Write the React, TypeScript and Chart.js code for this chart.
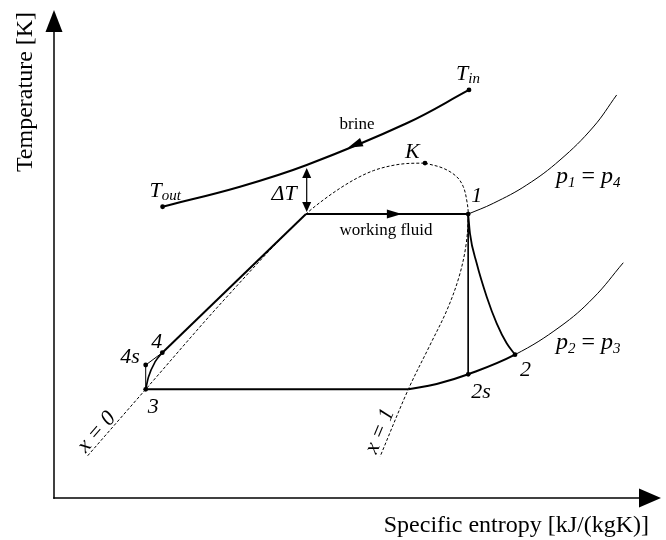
import React, { useEffect, useRef } from "react";
import { Chart, registerables } from "chart.js";

Chart.register(...registerables);

// ---------------- data (s = specific entropy, T = temperature; arbitrary units) ----------------
// Saturated liquid line (x = 0) up to the critical point K
const liquidS = [0.556, 1.513, 2.805, 4.158, 4.444, 4.719, 4.995, 5.269, 5.545, 5.82, 6.122];
const liquidT = [0.693, 1.782, 3.246, 4.655, 4.885, 5.077, 5.241, 5.366, 5.443, 5.483, 5.49];
// Saturated vapour line (x = 1) from K downwards
const vapourS = [6.122, 6.424, 6.645, 6.754, 6.81, 6.835, 6.799, 6.683, 6.485, 6.205, 5.847, 5.38];
const vapourT = [5.49, 5.405, 5.267, 5.103, 4.885, 4.655, 4.148, 3.623, 3.082, 2.508, 1.782, 0.677];

// Brine (heat source) from T_out to T_in
const brineS = [1.792, 3.069, 4.17, 5.82, 6.848];
const brineT = [4.775, 5.103, 5.459, 6.143, 6.689];

// Working fluid cycle
const evapS = [4.158, 6.835];
const evapT = [4.655, 4.655];
const preheatS = [1.787, 4.158];
const preheatT = [2.382, 4.655];
const condS = [1.513, 5.847];
const condT = [1.782, 1.782];
// low-pressure isobar p2 = p3 (thick up to state 2, thin beyond)
const lowIsobarS = [5.847, 6.315, 6.835, 7.607, 8.35, 8.899, 9.394];
const lowIsobarT = [1.782, 1.869, 2.028, 2.35, 2.808, 3.279, 3.857];
// high-pressure isobar p1 = p4 beyond state 1
const highIsobarS = [6.835, 7.249, 7.8, 8.35, 8.899, 9.285];
const highIsobarT = [4.655, 4.831, 5.131, 5.541, 6.082, 6.607];
const expansionS = [6.835, 6.864, 6.975, 7.14, 7.305, 7.47, 7.607];
const expansionT = [4.655, 4.339, 3.847, 3.3, 2.864, 2.536, 2.35];
const isentropicS = [6.835, 6.835];
const isentropicT = [4.655, 2.028];
const pumpS = [1.513, 1.559, 1.667, 1.787];
const pumpT = [1.782, 1.984, 2.23, 2.382];
const pumpIsS = [1.513, 1.513, 1.787];
const pumpIsT = [1.782, 2.18, 2.382];

// Marked state points
const pointNames = ["Tin", "Tout", "K", "1", "2", "2s", "3", "4", "4s"];
const pointS = [6.848, 1.792, 6.122, 6.835, 7.607, 6.835, 1.513, 1.787, 1.513];
const pointT = [6.689, 4.775, 5.49, 4.655, 2.35, 2.028, 1.782, 2.382, 2.18];

// Pinch-point temperature difference (ΔT) marker
const deltaS = 4.17;
const deltaLowT = 4.69;
const deltaHighT = 5.41;

// Flow-direction arrows (entropy position of the arrow tip)
const brineArrowS = 4.85;
const fluidArrowS = 5.74;

// Axis titles
const xTitle = "Specific entropy [kJ/(kgK)]";
const yTitle = "Temperature [K]";

// ---------------- helpers ----------------
const FONT = '"Liberation Serif", "Times New Roman", serif';
const xy = (s: number[], t: number[]) => s.map((v, i) => ({ x: v, y: t[i] }));

function line(label: string, s: number[], t: number[], width: number, extra: any = {}) {
  return {
    label,
    data: xy(s, t),
    showLine: true,
    borderColor: "#000",
    backgroundColor: "#000",
    borderWidth: width,
    pointRadius: 0,
    tension: 0,
    ...extra,
  };
}

function arrowHead(ctx: CanvasRenderingContext2D, tx: number, ty: number, dx: number, dy: number, len: number, hw: number) {
  const n = Math.hypot(dx, dy) || 1;
  const ux = dx / n, uy = dy / n;
  const bx = tx - ux * len, by = ty - uy * len;
  ctx.beginPath();
  ctx.moveTo(tx, ty);
  ctx.lineTo(bx - uy * hw, by + ux * hw);
  ctx.lineTo(bx + uy * hw, by - ux * hw);
  ctx.closePath();
  ctx.fill();
}

type Part = [string, string, number];
function rich(ctx: CanvasRenderingContext2D, x: number, y: number, parts: Part[], align: "left" | "right" | "center" = "left") {
  ctx.textAlign = "left";
  ctx.textBaseline = "alphabetic";
  let w = 0;
  for (const [t, f] of parts) {
    ctx.font = f;
    w += ctx.measureText(t).width;
  }
  let cx = align === "left" ? x : align === "right" ? x - w : x - w / 2;
  for (const [t, f, dy] of parts) {
    ctx.font = f;
    ctx.fillText(t, cx, y + dy);
    cx += ctx.measureText(t).width;
  }
}

function interpAtS(sArr: number[], tArr: number[], s: number) {
  for (let i = 0; i < sArr.length - 1; i++) {
    const a = sArr[i], b = sArr[i + 1];
    if ((s - a) * (s - b) <= 0 && a !== b) {
      const f = (s - a) / (b - a);
      return { t: tArr[i] + f * (tArr[i + 1] - tArr[i]), i };
    }
  }
  return { t: tArr[0], i: 0 };
}

const I22 = `italic 22px ${FONT}`;
const I24 = `italic 24px ${FONT}`;
const I15 = `italic 15px ${FONT}`;
const R24 = `24px ${FONT}`;
const R17 = `17px ${FONT}`;

const overlay = {
  id: "overlay",
  afterDatasetsDraw(chart: any) {
    const ctx: CanvasRenderingContext2D = chart.ctx;
    const xs = chart.scales.x, ys = chart.scales.y;
    const X = (s: number) => xs.getPixelForValue(s);
    const Y = (t: number) => ys.getPixelForValue(t);
    const area = chart.chartArea;
    ctx.save();
    ctx.fillStyle = "#000";
    ctx.strokeStyle = "#000";

    // axes with arrows
    const ox = X(0), oy = Y(0);
    ctx.lineWidth = 1.5;
    ctx.beginPath();
    ctx.moveTo(ox, oy + 0.75);
    ctx.lineTo(ox, area.top + 15);
    ctx.stroke();
    ctx.beginPath();
    ctx.moveTo(ox - 0.75, oy);
    ctx.lineTo(area.right - 15, oy);
    ctx.stroke();
    arrowHead(ctx, ox, area.top, 0, -1, 22, 8.5);
    arrowHead(ctx, area.right + 1, oy, 1, 0, 22, 9.5);

    // axis titles
    ctx.font = R24;
    ctx.textAlign = "right";
    ctx.textBaseline = "alphabetic";
    ctx.fillText(xTitle, area.right - 11, oy + 34);
    ctx.save();
    ctx.translate(ox - 22, area.top + 82);
    ctx.rotate(-Math.PI / 2);
    ctx.textAlign = "center";
    ctx.fillText(yTitle, 0, 0);
    ctx.restore();

    // brine flow arrow
    {
      const { t, i } = interpAtS(brineS, brineT, brineArrowS);
      const dx = X(brineS[i]) - X(brineS[i + 1]);
      const dy = Y(brineT[i]) - Y(brineT[i + 1]);
      arrowHead(ctx, X(brineArrowS), Y(t), dx, dy, 15, 4.5);
    }
    // working fluid arrow
    arrowHead(ctx, X(fluidArrowS), Y(evapT[0]), 1, 0, 15, 4.5);

    // ΔT double arrow
    {
      const x = X(deltaS);
      ctx.lineWidth = 1.2;
      ctx.beginPath();
      ctx.moveTo(x, Y(deltaLowT) - 6);
      ctx.lineTo(x, Y(deltaHighT) + 6);
      ctx.stroke();
      arrowHead(ctx, x, Y(deltaHighT), 0, -1, 10, 4.5);
      arrowHead(ctx, x, Y(deltaLowT), 0, 1, 10, 4.5);
      rich(ctx, x - 10, Y(deltaLowT) - 12, [["ΔT", I22, 0]], "right");
    }

    // state point labels
    const P = (name: string) => {
      const k = pointNames.indexOf(name);
      return { x: X(pointS[k]), y: Y(pointT[k]) };
    };
    let p = P("Tin");
    rich(ctx, p.x - 13, p.y - 10, [["T", I22, 0], ["in", I15, 3]]);
    p = P("Tout");
    rich(ctx, p.x - 13, p.y - 10, [["T", I22, 0], ["out", I15, 3]]);
    p = P("K");
    rich(ctx, p.x - 20, p.y - 5, [["K", I22, 0]]);
    p = P("1");
    rich(ctx, p.x + 3, p.y - 12, [["1", I22, 0]]);
    p = P("2");
    rich(ctx, p.x + 5, p.y + 21, [["2", I22, 0]]);
    p = P("2s");
    rich(ctx, p.x + 3, p.y + 24, [["2s", I22, 0]]);
    p = P("3");
    rich(ctx, p.x + 2, p.y + 24, [["3", I22, 0]]);
    p = P("4");
    rich(ctx, p.x - 11, p.y - 5, [["4", I22, 0]]);
    p = P("4s");
    rich(ctx, p.x - 6, p.y - 2, [["4s", I22, 0]], "right");

    // isobar labels
    rich(ctx, X(8.284), Y(5.164), [["p", I24, 0], ["1", I15, 4], [" = ", R24, 0], ["p", I24, 0], ["4", I15, 4]]);
    rich(ctx, X(8.284), Y(2.443), [["p", I24, 0], ["2", I15, 4], [" = ", R24, 0], ["p", I24, 0], ["3", I15, 4]]);

    // flow labels
    ctx.font = R17;
    ctx.textAlign = "center";
    ctx.textBaseline = "alphabetic";
    ctx.fillText("brine", X(5.0), Y(6.049));
    ctx.fillText("working fluid", X(5.479), Y(4.312));

    // quality line labels (rotated along the dashed lines)
    const rot = (text: string, cs: number, ct: number, sArr: number[], tArr: number[], i0: number, i1: number) => {
      const ang = Math.atan2(Y(tArr[i1]) - Y(tArr[i0]), X(sArr[i1]) - X(sArr[i0]));
      ctx.save();
      ctx.translate(X(cs), Y(ct));
      ctx.rotate(ang);
      ctx.font = I22;
      ctx.textAlign = "center";
      ctx.textBaseline = "middle";
      ctx.fillText(text, 0, 0);
      ctx.restore();
    };
    rot("x = 0", 0.705, 1.08, liquidS, liquidT, 0, 1);
    rot("x = 1", 5.38, 1.098, vapourS, vapourT, vapourS.length - 1, vapourS.length - 2);

    ctx.restore();
  },
};

export default function App() {
  const ref = useRef<HTMLCanvasElement>(null);
  useEffect(() => {
    if (!ref.current) return;
    const mono = { cubicInterpolationMode: "monotone" };
    const smooth = { tension: 0.4 };
    const chart = new Chart(ref.current, {
      type: "scatter",
      data: {
        datasets: [
          line("saturated liquid (x = 0)", liquidS, liquidT, 1, { borderDash: [3, 2], ...mono }),
          line("saturated vapour (x = 1)", vapourS, vapourT, 1, { borderDash: [3, 2], tension: 0.35 }),
          line("brine", brineS, brineT, 2, smooth),
          line("evaporation", evapS, evapT, 2),
          line("preheating", preheatS, preheatT, 2),
          line("condensation", condS, condT, 2),
          line("p2 = p3", lowIsobarS, lowIsobarT, 2, {
            ...smooth,
            segment: { borderWidth: (c: any) => (c.p0DataIndex < 3 ? 2 : 1) },
          }),
          line("p1 = p4", highIsobarS, highIsobarT, 1, smooth),
          line("expansion", expansionS, expansionT, 1.8, mono),
          line("isentropic expansion", isentropicS, isentropicT, 1),
          line("pump", pumpS, pumpT, 1.6, mono),
          line("isentropic pump", pumpIsS, pumpIsT, 1),
          {
            label: "points",
            data: xy(pointS, pointT),
            showLine: false,
            pointRadius: 2.4,
            pointBackgroundColor: "#000",
            pointBorderColor: "#000",
            pointBorderWidth: 0,
          } as any,
        ],
      },
      options: {
        animation: false,
        responsive: false,
        events: [],
        layout: { padding: { left: 54, right: 6, top: 10, bottom: 42 } },
        plugins: { legend: { display: false }, tooltip: { enabled: false }, title: { display: false } },
        scales: {
          x: { type: "linear", min: 0, max: 10, display: false },
          y: { type: "linear", min: 0, max: 8, display: false },
        },
      },
      plugins: [overlay],
    } as any);
    return () => chart.destroy();
  }, []);
  return (
    <div style={{ position: "fixed", left: 0, top: 0, width: 666, height: 540, background: "#fff" }}>
      <canvas ref={ref} width={666} height={540} style={{ display: "block" }} />
    </div>
  );
}
